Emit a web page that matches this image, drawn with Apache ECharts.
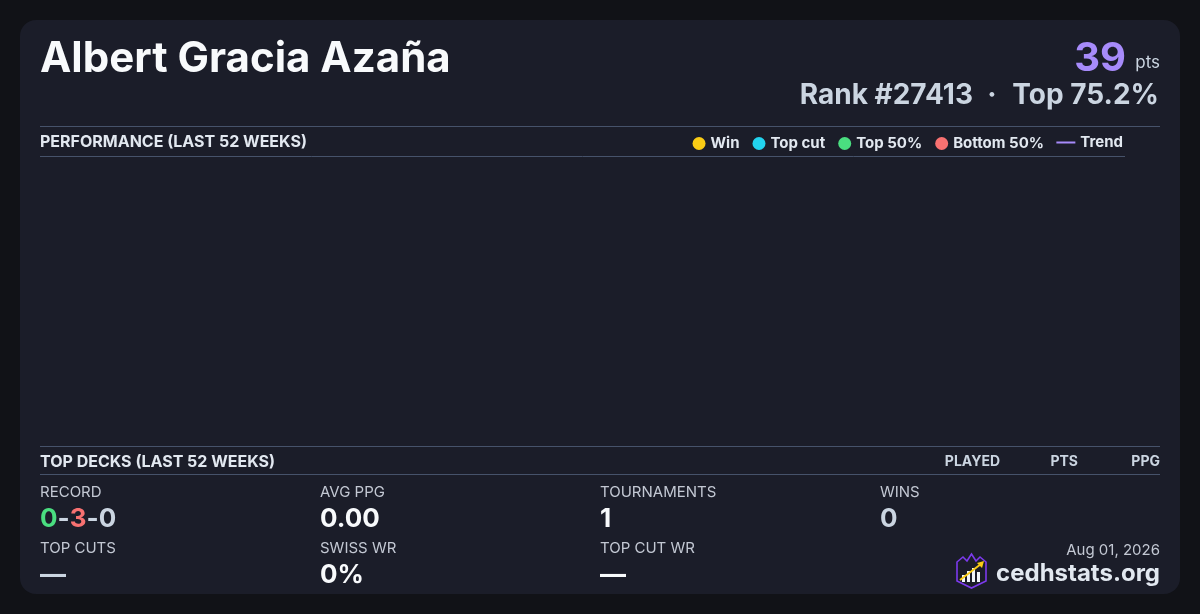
<!DOCTYPE html>
<html>
<head>
<meta charset="utf-8">
<script src="https://cdn.jsdelivr.net/npm/echarts@6/dist/echarts.min.js"></script>
<style>
html,body{margin:0;padding:0;background:#111217;}
#chart{width:1200px;height:614px;}
</style>
</head>
<body>
<div id="chart"></div>
<script>
// ---- data ----
const playerName = 'Albert Gracia Azaña';
const totalPoints = 39;
const rankText = 'Rank #27413';
const topText = 'Top 75.2%';
const perfTitle = 'PERFORMANCE (LAST 52 WEEKS)';
const legendCircles = ['Win', 'Top cut', 'Top 50%', 'Bottom 50%'];
const legendLine = ['Trend'];
const winData = [];
const topCutData = [];
const top50Data = [];
const bottom50Data = [];
const trendData = [];
const decksTitle = 'TOP DECKS (LAST 52 WEEKS)';
const deckColumns = ['PLAYED', 'PTS', 'PPG'];
const statLabelsRow1 = ['RECORD', 'AVG PPG', 'TOURNAMENTS', 'WINS'];
const statLabelsRow2 = ['TOP CUTS', 'SWISS WR', 'TOP CUT WR'];
const record = [0, 3, 0];
const statValuesRow1 = [null, '0.00', '1', '0'];
const statValuesRow2 = ['—', '0%', '—'];
const dateText = 'Aug 01, 2026';
const siteText = 'cedhstats.org';

// ---- style ----
const FONT = 'Inter, "Noto Sans", sans-serif';
const C = {
  card: '#1b1d29', rule: '#46526a', white: '#f8fafc', light: '#e2e8f0', grey: '#cbd5e1',
  label: '#c3c8d3', purple: '#a78bfa', yellow: '#facc15', cyan: '#22d3ee', green: '#4ade80', red: '#f87171'
};
const colX = [40, 320, 600, 880];

const chart = echarts.init(document.getElementById('chart'), null, {renderer: 'canvas'});

function txt(x, y, text, size, weight, color, align, extra) {
  return Object.assign({
    type: 'text', x: x, y: y, silent: true,
    style: {text: text, font: weight + ' ' + size + 'px ' + FONT, fill: color, align: align || 'left', verticalAlign: 'middle'}
  }, extra || {});
}
function hline(x1, x2, y) {
  return {type: 'line', silent: true, shape: {x1: x1, y1: y, x2: x2, y2: y}, style: {stroke: C.rule, lineWidth: 1}};
}

const graphics = [
  {type: 'rect', z: -10, silent: true, shape: {x: 20, y: 20, width: 1160, height: 574, r: 16}, style: {fill: C.card}},
  txt(40, 59, playerName, 42, 'bold', C.white),
  txt(1126, 59, String(totalPoints), 40, 'bold', C.purple, 'right'),
  txt(1160, 63, 'pts', 17, 'normal', C.grey, 'right'),
  txt(973, 96, rankText, 28, 'bold', C.grey, 'right'),
  txt(992, 96, '·', 28, 'bold', C.grey, 'center'),
  txt(1159, 96, topText, 28, 'bold', C.grey, 'right'),
  hline(40, 1160, 126.5),
  txt(40, 142, perfTitle, 16, 'bold', C.light),
  hline(40, 1125, 156.5),
  hline(40, 1160, 446.5),
  txt(40, 462, decksTitle, 16, 'bold', C.light),
  txt(1000, 462, deckColumns[0], 14, 'bold', C.grey, 'right'),
  txt(1078, 462, deckColumns[1], 14, 'bold', C.grey, 'right'),
  txt(1160, 462, deckColumns[2], 14, 'bold', C.grey, 'right'),
  hline(40, 1160, 474.5),
  txt(1160, 550, dateText, 15, 'normal', C.label, 'right'),
  txt(1160, 574, siteText, 24, 'bold', C.light, 'right')
];

statLabelsRow1.forEach(function (l, i) { graphics.push(txt(colX[i], 492, l, 15, 'normal', C.label)); });
statLabelsRow2.forEach(function (l, i) { graphics.push(txt(colX[i], 548, l, 15, 'normal', C.label)); });

const VAL = 'bold 26px ' + FONT;
graphics.push({
  type: 'text', x: 40, y: 519, silent: true,
  style: {
    text: '{g|' + record[0] + '}{s|-}{r|' + record[1] + '}{s|-}{n|' + record[2] + '}',
    verticalAlign: 'middle',
    rich: {
      g: {font: VAL, fill: C.green},
      r: {font: VAL, fill: C.red},
      s: {font: VAL, fill: C.grey},
      n: {font: VAL, fill: C.grey}
    }
  }
});
const row1Colors = [null, C.white, C.white, C.grey];
statValuesRow1.forEach(function (v, i) { if (v !== null) graphics.push(txt(colX[i], 519, v, 26, 'bold', row1Colors[i])); });
const row2Colors = [C.grey, C.white, C.white];
statValuesRow2.forEach(function (v, i) { graphics.push(txt(colX[i], 575, v, 26, 'bold', row2Colors[i])); });

// logo
graphics.push({
  type: 'group', x: 957, y: 553, silent: true,
  children: [
    {type: 'polygon', shape: {points: [[0,9],[6,4],[10,8],[14.5,1],[19,8],[23,4],[29,9],[29,28],[14.5,35],[0,28]]},
      style: {fill: 'none', stroke: '#7c3aed', lineWidth: 1.6}},
    {type: 'rect', shape: {x: 5, y: 22, width: 3, height: 7}, style: {fill: '#f1f5f9'}},
    {type: 'rect', shape: {x: 10, y: 18, width: 3, height: 11}, style: {fill: '#f1f5f9'}},
    {type: 'rect', shape: {x: 15, y: 15, width: 3, height: 14}, style: {fill: '#f1f5f9'}},
    {type: 'rect', shape: {x: 20, y: 19, width: 3, height: 10}, style: {fill: '#f1f5f9'}},
    {type: 'line', shape: {x1: 3, y1: 27, x2: 24, y2: 11}, style: {stroke: C.yellow, lineWidth: 2}},
    {type: 'polygon', shape: {points: [[27,8],[20,10],[25,15]]}, style: {fill: C.yellow}}
  ]
});

const legendText = {color: C.light, fontFamily: FONT, fontWeight: 'bold', fontSize: 15};

chart.setOption({
  backgroundColor: '#111217',
  animation: false,
  graphic: graphics,
  legend: [
    {data: legendCircles, icon: 'circle', itemWidth: 13, itemHeight: 13, itemGap: 13,
     right: 151, top: 131, textStyle: legendText, selectedMode: false, itemStyle: {opacity: 1}},
    {data: legendLine, icon: 'rect', itemWidth: 19, itemHeight: 2, right: 72, top: 130,
     textStyle: legendText, selectedMode: false, itemStyle: {opacity: 1}}
  ],
  grid: {left: 40, right: 75, top: 160, bottom: 170},
  xAxis: {type: 'value', show: false, min: 0, max: 52},
  yAxis: {type: 'value', show: false, min: 0, max: 10},
  series: [
    {name: 'Win', type: 'scatter', data: winData, itemStyle: {color: C.yellow, opacity: 1}},
    {name: 'Top cut', type: 'scatter', data: topCutData, itemStyle: {color: C.cyan, opacity: 1}},
    {name: 'Top 50%', type: 'scatter', data: top50Data, itemStyle: {color: C.green, opacity: 1}},
    {name: 'Bottom 50%', type: 'scatter', data: bottom50Data, itemStyle: {color: C.red, opacity: 1}},
    {name: 'Trend', type: 'line', data: trendData, showSymbol: false, itemStyle: {color: C.purple}, lineStyle: {color: C.purple, width: 2}}
  ]
});
</script>
</body>
</html>
